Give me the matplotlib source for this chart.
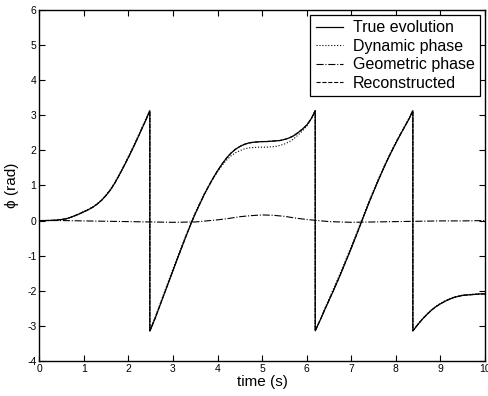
import matplotlib
matplotlib.use("Agg")
import matplotlib.pyplot as plt

plt.rcParams['font.family'] = ['Liberation Sans', 'DejaVu Sans']
plt.rcParams['axes.unicode_minus'] = False

# time samples (the repeated times are where the phase wraps from +pi to -pi)
t_vals = [0, 0.1, 0.2, 0.3, 0.4, 0.5, 0.6, 0.7, 0.8, 0.9, 1.0, 1.1, 1.2, 1.3, 1.4, 1.5,
          1.6, 1.7, 1.8, 1.9, 2.0, 2.1, 2.2, 2.3, 2.4, 2.48,
          2.48, 2.5, 2.6, 2.7, 2.8, 2.9, 3.0, 3.1, 3.2, 3.3, 3.4, 3.5, 3.6, 3.7, 3.8, 3.9,
          4.0, 4.1, 4.2, 4.3, 4.4, 4.5, 4.6, 4.7, 4.8, 4.9, 5.0, 5.1, 5.2, 5.3, 5.4, 5.5,
          5.6, 5.7, 5.8, 5.9, 6.0, 6.1, 6.19,
          6.19, 6.3, 6.4, 6.5, 6.6, 6.7, 6.8, 6.9, 7.0, 7.1, 7.2, 7.3, 7.4, 7.5, 7.6, 7.7,
          7.8, 7.9, 8.0, 8.1, 8.2, 8.3, 8.38,
          8.38, 8.45, 8.5, 8.6, 8.7, 8.8, 8.9, 9.0, 9.1, 9.2, 9.3, 9.4, 9.5, 9.6, 9.7, 9.8,
          9.9, 10.0]

# true evolution
phi_true = [0, 0, 0.002, 0.006, 0.015, 0.03, 0.05, 0.09, 0.14, 0.19, 0.25, 0.31, 0.38, 0.47, 0.58, 0.72,
            0.88, 1.08, 1.31, 1.55, 1.80, 2.06, 2.33, 2.61, 2.89, 3.13,
            -3.14, -3.09, -2.78, -2.44, -2.10, -1.76, -1.42, -1.08, -0.75, -0.42, -0.10, 0.20, 0.47, 0.74, 0.98, 1.21,
            1.42, 1.61, 1.78, 1.92, 2.03, 2.11, 2.17, 2.21, 2.23, 2.24, 2.25, 2.25, 2.26, 2.27, 2.28, 2.31,
            2.35, 2.41, 2.50, 2.60, 2.72, 2.90, 3.13,
            -3.14, -2.84, -2.55, -2.27, -1.99, -1.70, -1.40, -1.09, -0.78, -0.46, -0.13, 0.20, 0.52, 0.83, 1.13, 1.42,
            1.70, 1.96, 2.21, 2.45, 2.68, 2.91, 3.13,
            -3.14, -3.03, -2.95, -2.80, -2.67, -2.55, -2.45, -2.37, -2.30, -2.24, -2.19, -2.16, -2.13, -2.12, -2.11, -2.10,
            -2.09, -2.09]

# dynamic phase (lower than the true curve on the plateau near t=5)
phi_dyn = [0, 0, 0.002, 0.006, 0.015, 0.03, 0.05, 0.09, 0.14, 0.20, 0.26, 0.32, 0.39, 0.48, 0.59, 0.73,
           0.90, 1.10, 1.33, 1.57, 1.83, 2.09, 2.36, 2.64, 2.92, 3.13,
           -3.14, -3.06, -2.75, -2.41, -2.06, -1.72, -1.37, -1.04, -0.71, -0.39, -0.07, 0.23, 0.50, 0.76, 0.99, 1.20,
           1.39, 1.57, 1.72, 1.84, 1.93, 1.99, 2.04, 2.07, 2.08, 2.09, 2.09, 2.09, 2.10, 2.11, 2.14, 2.18,
           2.24, 2.32, 2.43, 2.55, 2.69, 2.89, 3.13,
           -3.14, -2.82, -2.52, -2.23, -1.94, -1.65, -1.35, -1.04, -0.73, -0.42, -0.09, 0.24, 0.56, 0.87, 1.17, 1.45,
           1.73, 1.99, 2.24, 2.47, 2.70, 2.93, 3.13,
           -3.14, -3.02, -2.94, -2.79, -2.66, -2.54, -2.44, -2.36, -2.29, -2.23, -2.18, -2.15, -2.12, -2.11, -2.10, -2.09,
           -2.09, -2.09]

# geometric phase
t_geo = [0, 0.5, 1.0, 1.5, 2.0, 2.5, 3.0, 3.5, 4.0, 4.25, 4.5, 4.75, 5.0, 5.25, 5.5,
         5.75, 6.0, 6.25, 6.5, 7.0, 7.5, 8.0, 8.5, 9.0, 9.5, 10.0]
phi_geo = [0, 0, -0.01, -0.02, -0.03, -0.04, -0.05, -0.04, 0.02, 0.06, 0.11, 0.14, 0.16, 0.15, 0.12,
           0.07, 0.03, 0.0, -0.03, -0.05, -0.04, -0.03, -0.02, -0.01, -0.01, 0]

# reconstructed sits right on top of the true evolution
phi_rec = list(phi_true)

fig = plt.figure(figsize=(4.88, 3.96), dpi=100)
ax = fig.add_axes([0.0805, 0.0884, 0.9135, 0.8866])

ax.plot(t_vals, phi_true, '-', color='black', lw=0.9, label='True evolution')
ax.plot(t_vals, phi_dyn, ':', color='black', lw=0.8, label='Dynamic phase')
ax.plot(t_geo, phi_geo, '-.', color='black', lw=0.8, label='Geometric phase')
ax.plot(t_vals, phi_rec, '--', color='black', lw=0.8, label='Reconstructed')

ax.set_xlim(0, 10)
ax.set_ylim(-4, 6)
ax.set_xticks(range(0, 11))
ax.set_yticks(range(-4, 7))
ax.tick_params(direction='in', length=4, width=0.8, top=True, right=True,
               labelsize=7.5, pad=2)
for s in ax.spines.values():
    s.set_linewidth(1.0)

ax.set_xlabel('time (s)', fontsize=11, labelpad=1)
ax.set_ylabel('\u03d5 (rad)', fontsize=11, labelpad=6)

leg = ax.legend(loc='upper right', fontsize=11.5, frameon=True, fancybox=False,
                framealpha=1, edgecolor='black', handlelength=1.7,
                handletextpad=0.6, labelspacing=0.22, borderpad=0.35,
                borderaxespad=0.3)
leg.get_frame().set_linewidth(0.9)

fig.savefig('out.png', dpi=100)
